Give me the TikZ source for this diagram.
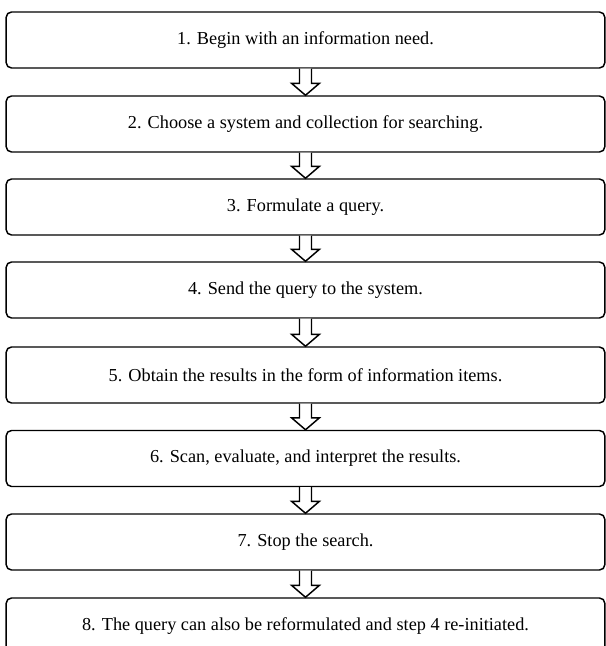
\documentclass[tikz,border=0pt]{standalone}
\usepackage{fontspec}
\setmainfont{Liberation Serif}
\usetikzlibrary{calc}

\tikzset{
  stepbox/.style={draw, rounded corners=4pt, line width=1.1pt,
    minimum width=449pt, minimum height=42pt, inner sep=0pt,
    font=\fontsize{13.7}{16}\selectfont},
  hollowarrow/.style={draw, line width=1.1pt, fill=white}
}

\begin{document}
\begin{tikzpicture}[x=0.75pt,y=-0.75pt]
  \useasboundingbox (0,0) rectangle (606,646);

  % Etape 1 : le besoin
  \node[stepbox] (s1) at (305.5,40) {1. Begin with an information need.};

  % Etape 2 : choix du systeme
  \node[stepbox] (s2) at (305.5,124) {2. Choose a system and collection for searching.};

  % Etape 3 : la requete
  \node[stepbox] (s3) at (305.5,207) {3. Formulate a query.};

  % Etape 4 : envoi
  \node[stepbox] (s4) at (305.5,290) {4. Send the query to the system.};

  % Etape 5 : resultats
  \node[stepbox] (s5) at (305.5,375) {5. Obtain the results in the form of information items.};

  % Etape 6 : examen
  \node[stepbox] (s6) at (305.5,458.5) {6. Scan, evaluate, and interpret the results.};

  % Etape 7 : arret
  \node[stepbox] (s7) at (305.5,542) {7. Stop the search.};

  % Etape 8 : reformulation
  \node[stepbox] (s8) at (305.5,626) {8. The query can also be reformulated and step 4 re-initiated.};

  % Fleches creuses entre les etapes
  \foreach \i/\j in {1/2,2/3,3/4,4/5,5/6,6/7,7/8}
    \draw[hollowarrow] ($(s\i.south)+(-6,0)$) -- ($(s\j.north)+(-6,-12)$)
      -- ($(s\j.north)+(-14,-12)$) -- (s\j.north) -- ($(s\j.north)+(14,-12)$)
      -- ($(s\j.north)+(6,-12)$) -- ($(s\i.south)+(6,0)$);
\end{tikzpicture}
\end{document}
